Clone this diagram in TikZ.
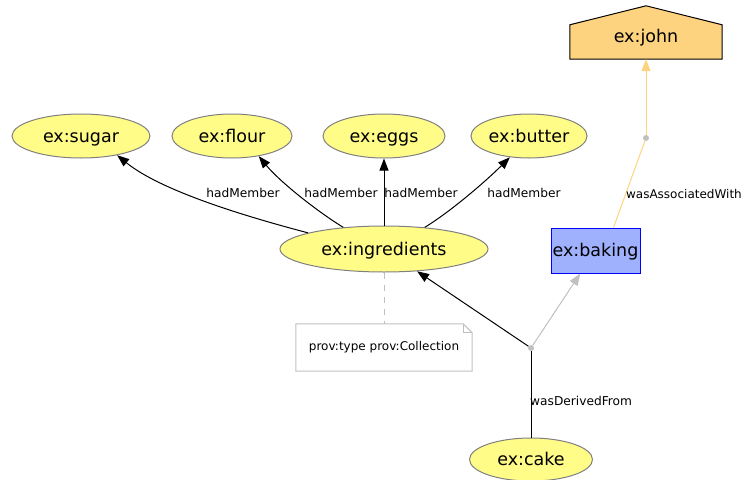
\documentclass[tikz,border=0pt]{standalone}
\usepackage{fontspec}
\setmainfont{DejaVu Sans}
\usetikzlibrary{shapes.geometric,arrows.meta,calc}
\definecolor{entfill}{HTML}{FFFC87}
\definecolor{actfill}{HTML}{9FB1FC}
\definecolor{agfill}{HTML}{FED37F}
\definecolor{lgray}{HTML}{C0C0C0}
\tikzset{
  nfont/.style={font=\fontsize{17.5}{19}\selectfont,text height=15pt,text depth=3pt},
  ent/.style={ellipse,draw=gray,line width=1pt,fill=entfill,inner sep=0pt,nfont},
  act/.style={rectangle,draw=blue,line width=1pt,fill=actfill,inner sep=0pt,minimum width=89pt,minimum height=45pt,nfont},
  lbl/.style={font=\fontsize{12.2}{14}\selectfont,inner sep=0pt},
  tip/.style={-{Triangle[length=12pt,width=9pt]}},
  edge/.style={draw=black,line width=1pt,tip},
  dotn/.style={circle,fill=lgray,inner sep=0pt,minimum size=6pt},
}
\begin{document}
\begin{tikzpicture}[x=1pt,y=-1pt]
\useasboundingbox (0,0) rectangle (743,479);
% entities
\node[ent,minimum width=138pt,minimum height=44pt] (sugar) at (81,136) {ex:sugar};
\node[ent,minimum width=120pt,minimum height=44pt] (flour) at (232,136) {ex:flour};
\node[ent,minimum width=122pt,minimum height=44pt] (eggs) at (384,136) {ex:eggs};
\node[ent,minimum width=116pt,minimum height=44pt] (butter) at (529,136) {ex:butter};
\node[ent,minimum width=208pt,minimum height=46pt] (ingredients) at (384,249) {ex:ingredients};
\node[ent,minimum width=123pt,minimum height=43pt] (cake) at (531,459.5) {ex:cake};
\node[act] (baking) at (595.5,250.5) {ex:baking};
% agent (house)
\node[inner sep=0pt,minimum width=152pt,minimum height=34pt] (john) at (646,42) {};
\filldraw[fill=agfill,draw=black,line width=1pt] (john.south west) -- (john.north west) -- ($(john.north)+(0,-19)$) -- (john.north east) -- (john.south east) -- cycle;
\node[nfont,inner sep=0pt] (johntext) at (646,36) {ex:john};
% note
\node[inner sep=0pt,minimum width=176pt,minimum height=47pt] (note) at (384,347.5) {};
\draw[draw=lgray,line width=1pt] (note.south west) -- (note.north west) -- ($(note.north east)+(-9,0)$) -- ($(note.north east)+(0,9)$) -- (note.south east) -- cycle;
\draw[draw=lgray,line width=0.7pt] ($(note.north east)+(-9,0)$) -- ($(note.north east)+(-9,9)$) -- ($(note.north east)+(0,9)$);
\node[lbl,font=\fontsize{12}{14}\selectfont] (notetext) at (note.center) {prov:type prov:Collection};
\draw[draw=lgray,dash pattern=on 6pt off 6pt,line width=1pt] (ingredients.south) -- (note.north);
% hadMember edges
\draw[edge] (ingredients.168) .. controls (240,215) and (160,190) .. (sugar.-28);
\draw[edge] (ingredients.152) .. controls (318,212) and (280,182) .. (flour.-37);
\draw[edge] (ingredients.north) -- (eggs.south);
\draw[edge] (ingredients.28) .. controls (450,212) and (485,182) .. (butter.-132);
\node[lbl] (l1) at (243,193) {hadMember};
\node[lbl] (l2) at (341,193) {hadMember};
\node[lbl] (l3) at (421,193) {hadMember};
\node[lbl] (l4) at (524,193) {hadMember};
% association
\node[dotn] (d1) at (646,138) {};
\draw[draw=agfill,line width=1pt] ([xshift=18pt]baking.north) -- (d1);
\draw[draw=agfill,line width=1pt,tip] (d1) -- (john.south);
\node[lbl,anchor=east,font=\fontsize{12}{14}\selectfont] (l5) at (742,194) {wasAssociatedWith};
% derivation
\node[dotn] (d2) at (531,348) {};
\draw[draw=black,line width=1pt] (cake.north) -- (d2);
\draw[edge] (d2) -- (ingredients);
\draw[draw=lgray,line width=1pt,tip] (d2) -- (baking);
\node[lbl,anchor=west] (l6) at (530,401) {wasDerivedFrom};
\end{tikzpicture}
\end{document}
